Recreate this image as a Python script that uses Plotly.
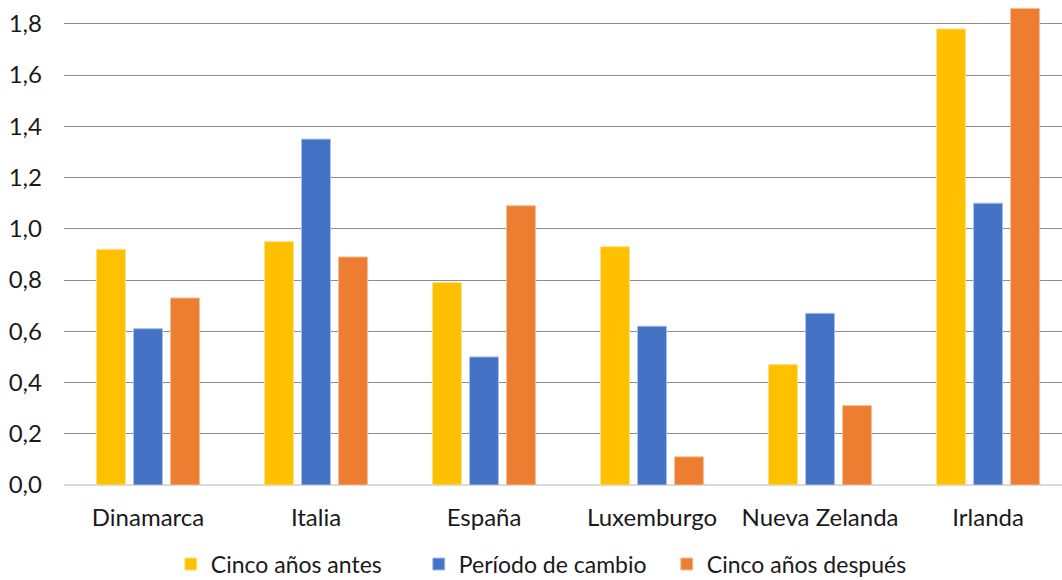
import plotly.graph_objects as go

categories = ["Dinamarca", "Italia", "España", "Luxemburgo", "Nueva Zelanda", "Irlanda"]
series_names = ["Cinco años antes", "Período de cambio", "Cinco años después"]
antes = [0.92, 0.95, 0.79, 0.93, 0.47, 1.78]
cambio = [0.61, 1.35, 0.50, 0.62, 0.67, 1.10]
despues = [0.73, 0.89, 1.09, 0.11, 0.31, 1.86]
colors = ["#FFC000", "#4472C4", "#ED7D31"]
edge_colors = ["#FFE08A", "#A9C0E8", "#F6BE98"]
tick_vals = [0, 0.2, 0.4, 0.6, 0.8, 1.0, 1.2, 1.4, 1.6, 1.8]
tick_text = ["0,0", "0,2", "0,4", "0,6", "0,8", "1,0", "1,2", "1,4", "1,6", "1,8"]

FONT = "Lato"

fig = go.Figure()
for name, vals, col, ecol in zip(series_names, [antes, cambio, despues], colors, edge_colors):
    fig.add_trace(go.Bar(
        x=categories, y=vals, name=name,
        marker=dict(color=col, line=dict(color=ecol, width=1)),
    ))

fig.update_layout(
    width=1062, height=580,
    margin=dict(l=64, r=0, t=0, b=95, autoexpand=False),
    paper_bgcolor="white", plot_bgcolor="white",
    barmode="group", bargap=0.339, bargroupgap=0.216,
    font=dict(family=FONT, size=24, color="#1a1a1a"),
    showlegend=True,
    legend=dict(
        orientation="h", x=0.107, xanchor="left", y=-0.163, yanchor="middle",
        font=dict(family=FONT, size=23, color="#1a1a1a"),
        itemwidth=30, entrywidth=203, entrywidthmode="pixels",
        bgcolor="rgba(0,0,0,0)",
    ),
    xaxis=dict(
        range=[-0.5, 5.44], showgrid=False, showline=False, zeroline=False,
        ticks="", ticklabelstandoff=16, automargin=False,
        tickfont=dict(family=FONT, size=24, color="#1a1a1a"),
    ),
    yaxis=dict(
        range=[0, 1.893], tickvals=tick_vals, ticktext=tick_text,
        showgrid=True, gridcolor="#8C8C8C", gridwidth=1,
        zeroline=True, zerolinecolor="#D9D9D9", zerolinewidth=2,
        showline=False, ticks="", ticklabelstandoff=21, automargin=False,
        tickfont=dict(family=FONT, size=24, color="#1a1a1a"),
    ),
)

fig.write_html("out.html")
